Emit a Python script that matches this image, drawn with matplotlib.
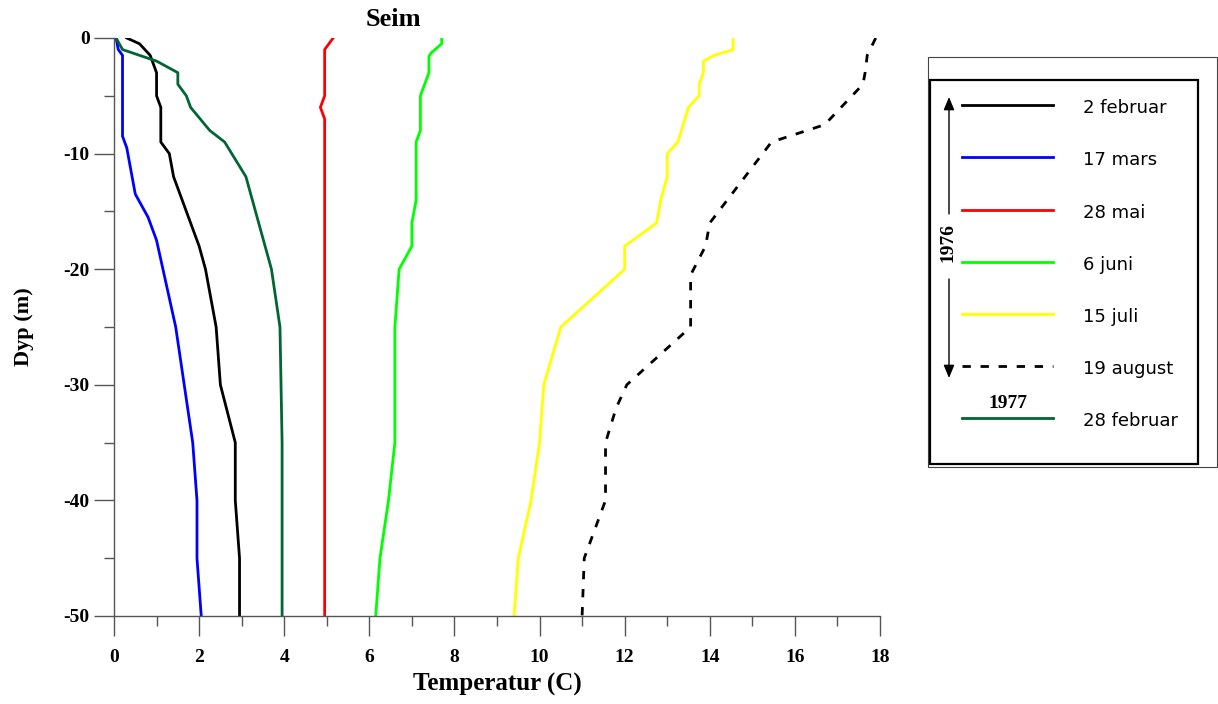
import numpy as np
import matplotlib.pyplot as plt
from matplotlib.patches import Rectangle

plt.rcParams['axes.unicode_minus'] = False

# temperaturprofiler, Seim (dyp i meter, temperatur i C)
feb_depth = [0, -0.5, -1.5, -3, -5, -6, -9, -10, -12, -15, -18, -20, -25, -30, -35, -40, -45, -50]
feb_temp = [0.3, 0.6, 0.85, 1.0, 1.0, 1.1, 1.1, 1.3, 1.4, 1.7, 2.0, 2.15, 2.4, 2.5, 2.85, 2.85, 2.95, 2.95]

mar_depth = [0, -1, -1.5, -8.5, -9.5, -13.5, -15.5, -17.5, -20, -25, -35, -40, -45, -50]
mar_temp = [0.05, 0.1, 0.2, 0.2, 0.3, 0.5, 0.8, 1.0, 1.15, 1.45, 1.85, 1.95, 1.95, 2.05]

mai_depth = [0, -1, -5, -6, -7, -50]
mai_temp = [5.15, 4.95, 4.95, 4.85, 4.95, 4.95]

jun_depth = [0, -0.5, -1.3, -1.6, -3, -5, -8, -9, -14, -16, -18, -20, -25, -35, -40, -45, -50]
jun_temp = [7.7, 7.7, 7.45, 7.4, 7.4, 7.2, 7.2, 7.1, 7.1, 7.0, 7.0, 6.7, 6.6, 6.6, 6.45, 6.25, 6.15]

jul_depth = [0, -1, -1.5, -2, -3, -4, -5, -6, -9, -10, -12, -14, -16, -18, -20,
             -25, -30, -35, -40, -45, -50]
jul_temp = [14.55, 14.55, 14.1, 13.85, 13.85, 13.75, 13.75, 13.5, 13.25, 13.0, 13.0, 12.85,
            12.75, 12.0, 12.0, 10.5, 10.1, 10.0, 9.8, 9.5, 9.4]

aug_depth = [0, -1.5, -3, -4, -7.5, -9, -16, -18, -20.5, -25, -30, -32, -35, -40, -45, -50]
aug_temp = [17.9, 17.7, 17.65, 17.6, 16.7, 15.45, 14.0, 13.9, 13.55, 13.55, 12.05, 11.8,
            11.55, 11.55, 11.05, 11.0]

feb77_depth = [0, -1, -2, -3, -4, -5, -6, -8, -9, -12, -20, -25, -35, -50]
feb77_temp = [0.05, 0.2, 1.0, 1.5, 1.5, 1.7, 1.8, 2.25, 2.6, 3.1, 3.7, 3.9, 3.95, 3.95]

labels = ['2 februar', '17 mars', '28 mai', '6 juni', '15 juli', '19 august', '28 februar']
colors = ['black', '#0000ff', '#ff0000', '#00ff00', '#ffff00', 'black', '#006633']
styles = ['-', '-', '-', '-', '-', (0, (3, 3.5)), '-']

profiles = [(feb_temp, feb_depth), (mar_temp, mar_depth), (mai_temp, mai_depth),
            (jun_temp, jun_depth), (jul_temp, jul_depth), (aug_temp, aug_depth),
            (feb77_temp, feb77_depth)]

serif = 'Liberation Serif'
W, H = 1218, 704

fig = plt.figure(figsize=(W / 100, H / 100), dpi=100)
ax = fig.add_axes([114 / W, 1 - 616 / H, (880 - 114) / W, (616 - 38) / H])

for (temp, depth), c, ls in zip(profiles, colors, styles):
    ax.plot(temp, depth, color=c, linestyle=ls, linewidth=2.0)

ax.set_xlim(0, 18)
ax.set_ylim(-50, 0)
ax.set_xticks(np.arange(0, 19, 2))
ax.set_xticks(np.arange(1, 18, 2), minor=True)
ax.set_yticks(np.arange(-50, 1, 10))
ax.set_yticks(np.arange(-45, 0, 10), minor=True)

for side in ['top', 'right']:
    ax.spines[side].set_visible(False)
for side in ['left', 'bottom']:
    ax.spines[side].set_color('#555555')
    ax.spines[side].set_linewidth(1.0)

ax.tick_params(axis='both', which='major', length=14.5, width=1.0, color='#555555')
ax.tick_params(axis='both', which='minor', length=7, width=1.0, color='#555555')
ax.tick_params(axis='x', which='major', pad=9)
ax.tick_params(axis='y', which='major', pad=3)
for lab in ax.get_xticklabels() + ax.get_yticklabels():
    lab.set_fontfamily(serif)
    lab.set_fontweight('bold')
    lab.set_fontsize(14)

ax.set_xlabel('Temperatur (C)', fontfamily=serif, fontweight='bold', fontsize=18, labelpad=5)
ax.set_ylabel('Dyp (m)', fontfamily=serif, fontweight='bold', fontsize=16, labelpad=21)
fig.text(393 / W, 1 - 20 / H, 'Seim', fontfamily=serif, fontweight='bold', fontsize=19,
         ha='center', va='center')

# forklaring tegnet for hand i pikselkoordinater
lax = fig.add_axes([0, 0, 1, 1])
lax.set_xlim(0, W)
lax.set_ylim(H, 0)
lax.axis('off')

lax.add_patch(Rectangle((928, 57), 289, 410, fill=False, edgecolor='#444444', linewidth=0.8))
lax.add_patch(Rectangle((929.5, 79.5), 268, 384, fill=False, edgecolor='black', linewidth=1.6))

rows = [105, 157, 210, 262, 314, 366, 418]
for y, lab, c, ls in zip(rows, labels, colors, styles):
    lax.plot([962, 1053], [y, y], color=c, linestyle=ls, linewidth=2.0)
    lax.text(1083, y + 3, lab, fontsize=13, fontfamily='DejaVu Sans', va='center', ha='left')

arrow = dict(arrowstyle='-|>,head_length=0.65,head_width=0.27', color='black', lw=1.0,
             shrinkA=0, shrinkB=0, mutation_scale=12)
lax.annotate('', xy=(949, 97), xytext=(949, 214), arrowprops=arrow)
lax.annotate('', xy=(949, 378), xytext=(949, 279), arrowprops=arrow)
lax.text(948, 243, '1976', rotation=90, fontfamily=serif, fontweight='bold', fontsize=14,
         ha='center', va='center')
lax.text(1008, 403, '1977', fontfamily=serif, fontweight='bold', fontsize=14,
         ha='center', va='center')

plt.savefig('out.png', dpi=100)
plt.close()
